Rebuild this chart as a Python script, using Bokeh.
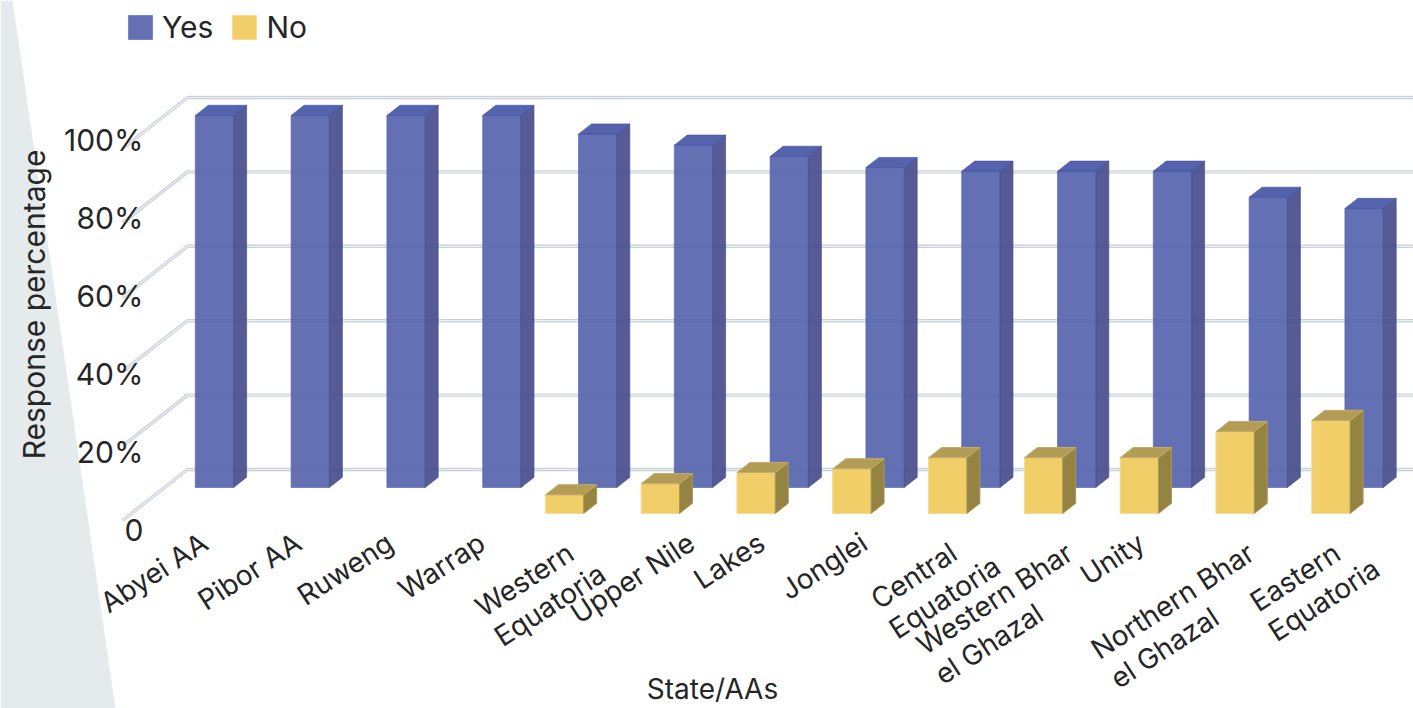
from bokeh.plotting import figure
from bokeh.models import Range1d, Legend, LegendItem
from bokeh.embed import file_html
from bokeh.resources import INLINE
from bokeh.core.properties import value
import math

# ---------------- data ----------------
categories = ["Abyei AA", "Pibor AA", "Ruweng", "Warrap", "Western\nEquatoria", "Upper Nile",
              "Lakes", "Jonglei", "Central\nEquatoria", "Western Bhar\nel Ghazal", "Unity",
              "Northern Bhar\nel Ghazal", "Eastern\nEquatoria"]
yes_pct = [100, 100, 100, 100, 95, 92, 89, 86, 85, 85, 85, 78, 75]
no_pct = [0, 0, 0, 0, 5, 8, 11, 12, 15, 15, 15, 22, 25]
tick_values = [0, 20, 40, 60, 80, 100]
tick_labels = ["0", "20%", "40%", "60%", "80%", "100%"]

# ---------------- layout / projection ----------------
W, H = 1413, 708
SX, SY = 95.8, 3.72            # px per category, px per percent
X0PX, Y0PX = 171.9, 520.0      # category 0 / zero level on the front plane (px)
x_start = -X0PX / SX
y_start = -(H - Y0PX) / SY
DX, DY = 65.0 / SX, 51.0 / SY  # offset for full depth (oblique projection)

def px_x(px):
    return x_start + px / SX

def px_y(py):
    return y_start + (H - py) / SY

def proj(x, y, d):
    return x + d * DX, y + d * DY

FONT = "Inter"
TXT = "#262626"

p = figure(width=W, height=H, x_range=Range1d(x_start, x_start + W / SX),
           y_range=Range1d(y_start, y_start + H / SY),
           output_backend="svg", toolbar_location=None, min_border=0)
p.axis.visible = False
p.grid.visible = False
p.outline_line_color = None
p.background_fill_color = "white"
p.border_fill_color = "white"

# grey decorative band on the left
p.patch([px_x(0), px_x(12), px_x(115), px_x(0)], [px_y(0), px_y(0), px_y(H), px_y(H)],
        fill_color="#e5eaed", line_color=None)

# ---------------- gridlines (left wall + back wall) ----------------
XL = px_x(122)
XR = x_start + W / SX + 1
gxs, gys = [], []
for t in tick_values:
    a = proj(XL, t, 0)
    b = proj(XL, t, 1)
    c = proj(XR, t, 1)
    gxs.append([a[0], b[0], c[0]])
    gys.append([a[1], b[1], c[1]])
p.multi_line(gxs, gys, line_color="#c9d0d6", line_width=3.4)
p.multi_line(gxs, gys, line_color="#eef1f3", line_width=1.2)

# ---------------- 3D bars ----------------
HW, BD = 0.2, 0.2

def faces(vals, d0):
    front, side, top = ([], []), ([], []), ([], [])
    for i, v in enumerate(vals):
        if v <= 0:
            continue
        l, r = i - HW, i + HW
        pts = [proj(l, 0, d0), proj(r, 0, d0), proj(r, v, d0), proj(l, v, d0)]
        front[0].append([q[0] for q in pts]); front[1].append([q[1] for q in pts])
        pts = [proj(r, 0, d0), proj(r, 0, d0 + BD), proj(r, v, d0 + BD), proj(r, v, d0)]
        side[0].append([q[0] for q in pts]); side[1].append([q[1] for q in pts])
        pts = [proj(l, v, d0), proj(r, v, d0), proj(r, v, d0 + BD), proj(l, v, d0 + BD)]
        top[0].append([q[0] for q in pts]); top[1].append([q[1] for q in pts])
    return front, side, top

yf, ys_, yt = faces(yes_pct, 0.647)
nf, ns_, nt = faces(no_pct, 0.137)

ALPHA = 0.9
yes_front = p.patches(yf[0], yf[1], fill_color="#5262ac", fill_alpha=ALPHA,
                      line_color="#5262ac", line_alpha=0.6, line_width=1)
p.patches(ys_[0], ys_[1], fill_color="#434a8a", fill_alpha=ALPHA, line_color="#434a8a",
          line_alpha=0.6, line_width=1)
p.patches(yt[0], yt[1], fill_color="#4351a3", fill_alpha=ALPHA, line_color="#4351a3",
          line_alpha=0.6, line_width=1)

no_front = p.patches(nf[0], nf[1], fill_color="#f2ce69", line_color="#f4dc96", line_width=1)
p.patches(ns_[0], ns_[1], fill_color="#958441", line_color="#a8975a", line_width=1)
p.patches(nt[0], nt[1], fill_color="#b39c56", line_color="#c4ad6a", line_width=1)

# ---------------- y tick labels ----------------
p.text(x=[px_x(143)] * len(tick_values), y=[-2.42 + 1.048 * t for t in tick_values],
       text=tick_labels, text_font=value(FONT), text_font_size="30px", text_color=TXT,
       text_align="right", text_baseline="middle")

# ---------------- category labels (rotated) ----------------
ANG = math.radians(33)
LFS = 28
LH = 35.0            # px between label lines
BOXH = LFS * 1.15    # px height of one text line box
label_dx = {"Western Bhar\nel Ghazal": 20, "Northern Bhar\nel Ghazal": 10}  # px nudges
CW = {"W": .93, "E": .60, "C": .70, "N": .75, "B": .66, "U": .74, "A": .69, "P": .63,
      "R": .64, "L": .55, "J": .53, "G": .74, " ": .28, "i": .25, "l": .25, "t": .37,
      "r": .38, "s": .52, "z": .50, "k": .53, "y": .53, "w": .80}

def est_width(s):
    return sum(CW.get(ch, 0.57) for ch in s) * LFS

ca, sa = math.cos(ANG), math.sin(ANG)
lab_x, lab_y, lab_t = [], [], []
for i, c in enumerate(categories):
    lines = c.split("\n")
    catpx = X0PX + 8.8 + 95.8 * i
    if len(lines) == 1:
        # bounding box of the rotated text centred under the category
        w = est_width(c)
        ex = catpx - 27 + (w * ca + BOXH * sa) / 2 - BOXH * sa
        lab_x.append(px_x(ex)); lab_y.append(px_y(525)); lab_t.append(c)
    else:
        # right end of first line anchored near the category, lines left aligned
        ex = catpx - 3 + label_dx.get(c, 0)
        ey = 535
        w1 = est_width(lines[0])
        for k, ln in enumerate(lines):
            dw = est_width(ln) - w1
            lab_x.append(px_x(ex + k * LH * sa + dw * ca))
            lab_y.append(px_y(ey + k * LH * ca - dw * sa))
            lab_t.append(ln)

p.text(x=lab_x, y=lab_y, text=lab_t, angle=ANG, text_font=value(FONT),
       text_font_size=f"{LFS}px", text_color=TXT, text_align="right", text_baseline="top")

# ---------------- axis titles ----------------
p.text(x=[px_x(33)], y=[px_y(304)], text=["Response percentage"], angle=math.pi / 2,
       text_font=value(FONT), text_font_size="30px", text_color=TXT,
       text_align="center", text_baseline="middle")
p.text(x=[px_x(712)], y=[px_y(688)], text=["State/AAs"], text_font=value(FONT),
       text_font_size="28px", text_color=TXT, text_align="center", text_baseline="middle")

# ---------------- legend ----------------
legend = Legend(items=[LegendItem(label="Yes", renderers=[yes_front]),
                       LegendItem(label="No", renderers=[no_front])],
                orientation="horizontal", location=(125, 663), padding=0, margin=0,
                spacing=16, glyph_width=30, glyph_height=30, label_standoff=7,
                label_text_font=FONT, label_text_font_size="30px", label_text_color=TXT,
                border_line_color=None, background_fill_alpha=0)
p.add_layout(legend, "center")

open("out.html", "w").write(file_html(p, INLINE))
